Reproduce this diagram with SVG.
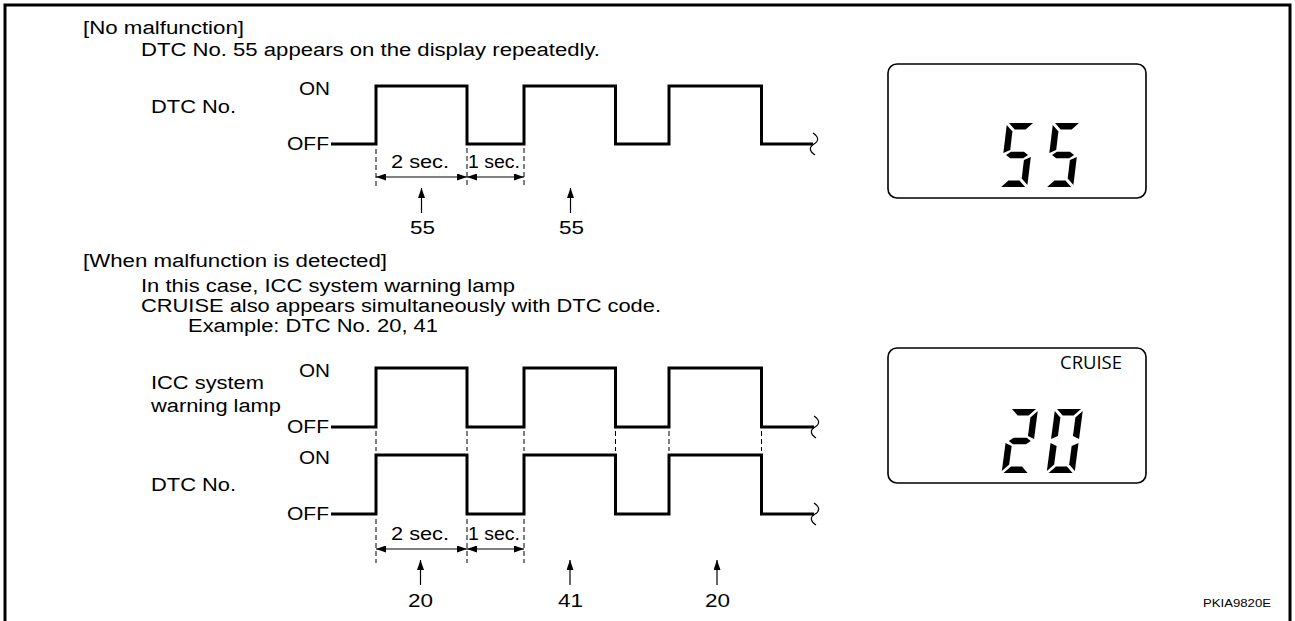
<svg xmlns="http://www.w3.org/2000/svg" xmlns:xlink="http://www.w3.org/1999/xlink" width="1295" height="621" viewBox="0 0 1295 621">
<style>
  text { font-family: "Liberation Sans", Arial, sans-serif; font-size: 18px; fill: #000; }
  .wave { fill: none; stroke: #000; stroke-width: 3; stroke-linejoin: miter; }
  .dash { fill: none; stroke: #000; stroke-width: 1; stroke-dasharray: 5 3; }
  .dim { fill: none; stroke: #000; stroke-width: 1; marker-start: url(#ah); marker-end: url(#ah); }
  .up { fill: none; stroke: #000; stroke-width: 1.2; marker-end: url(#ah); }
  .sq { fill: none; stroke: #000; stroke-width: 1.2; }
  .lcd { fill: #fff; stroke: #000; stroke-width: 1.6; }
  .seg { fill: #000; }
  .cruise { font-family: "Open Sans", "DejaVu Sans", sans-serif; font-size: 18px; }
  .code { font-size: 11px; }
</style>
<defs>
  <marker id="ah" markerUnits="userSpaceOnUse" markerWidth="11" markerHeight="7" refX="10" refY="3.5" orient="auto-start-reverse">
    <path d="M0,0 L10,3.5 L0,7 z" fill="#000"/>
  </marker>
  <polygon id="sa" class="seg" points="2,0 26,0 19.5,6.5 8.5,6.5"/>
  <polygon id="sb" class="seg" points="28,2 28,30 21.5,27 21.5,8.5"/>
  <polygon id="sc" class="seg" points="28,34 28,62 21.5,55.5 21.5,37"/>
  <polygon id="sd" class="seg" points="2,64 26,64 19.5,57.5 8.5,57.5"/>
  <polygon id="se" class="seg" points="0,34 0,62 6.5,55.5 6.5,37"/>
  <polygon id="sf" class="seg" points="0,2 0,30 6.5,27 6.5,8.5"/>
  <polygon id="sg" class="seg" points="3,32 7.5,28.75 20.5,28.75 25,32 20.5,35.25 7.5,35.25"/>
</defs>

<rect x="0" y="0" width="1295" height="621" fill="#fff"/>
<path id="frame" d="M5 621 V5 H1290 V621" fill="none" stroke="#000" stroke-width="3"/>

<!-- Section 1 texts -->
<g id="section1-text">
  <text x="83" y="34" textLength="161" lengthAdjust="spacingAndGlyphs">[No malfunction]</text>
  <text x="141" y="56" textLength="459" lengthAdjust="spacingAndGlyphs">DTC No. 55 appears on the display repeatedly.</text>
</g>

<g id="dtc1-labels">
  <text x="151" y="113" textLength="85" lengthAdjust="spacingAndGlyphs">DTC No.</text>
  <text x="299" y="95" textLength="31" lengthAdjust="spacingAndGlyphs">ON</text>
  <text x="287" y="150" textLength="42" lengthAdjust="spacingAndGlyphs">OFF</text>
</g>

<g id="dtc1-wave">
  <path class="wave" d="M331 144 H376 V86 H467 V144 H524 V86 H615.5 V144 H669 V86 H761.5 V144 H813"/>
  <path class="sq" d="M813 133 C819 137 819 141 814 144 C809 147 809 151 815 155"/>
</g>

<g id="dtc1-timing">
  <line class="dash" x1="376" y1="149" x2="376" y2="188"/>
  <line class="dash" x1="467" y1="148" x2="467" y2="187"/>
  <line class="dash" x1="524" y1="148" x2="524" y2="187"/>
  <line class="dim" x1="376" y1="177" x2="467" y2="177"/>
  <line class="dim" x1="467" y1="177" x2="524" y2="177"/>
  <text x="391" y="168" textLength="58" lengthAdjust="spacingAndGlyphs">2 sec.</text>
  <text x="468" y="168" textLength="52" lengthAdjust="spacingAndGlyphs">1 sec.</text>
  <line class="up" x1="421.5" y1="213" x2="421.5" y2="188"/>
  <line class="up" x1="570.5" y1="213" x2="570.5" y2="188"/>
  <text x="410" y="234" textLength="25" lengthAdjust="spacingAndGlyphs">55</text>
  <text x="559" y="234" textLength="25" lengthAdjust="spacingAndGlyphs">55</text>
</g>

<g id="display1" aria-label="55">
  <rect class="lcd" x="888" y="64" width="258" height="134" rx="9"/>
  <g transform="translate(1007 123) skewX(-7)">
    <use xlink:href="#sa"/><use xlink:href="#sf"/><use xlink:href="#sg"/><use xlink:href="#sc"/><use xlink:href="#sd"/>
  </g>
  <g transform="translate(1053 123) skewX(-7)">
    <use xlink:href="#sa"/><use xlink:href="#sf"/><use xlink:href="#sg"/><use xlink:href="#sc"/><use xlink:href="#sd"/>
  </g>
</g>

<!-- Section 2 texts -->
<g id="section2-text">
  <text x="83" y="267" textLength="304" lengthAdjust="spacingAndGlyphs">[When malfunction is detected]</text>
  <text x="141" y="292" textLength="374" lengthAdjust="spacingAndGlyphs">In this case, ICC system warning lamp</text>
  <text x="141" y="312" textLength="520" lengthAdjust="spacingAndGlyphs">CRUISE also appears simultaneously with DTC code.</text>
  <text x="188" y="332" textLength="250" lengthAdjust="spacingAndGlyphs">Example: DTC No. 20, 41</text>
</g>

<g id="icc-labels">
  <text x="151" y="389" textLength="113" lengthAdjust="spacingAndGlyphs">ICC system</text>
  <text x="151" y="412" textLength="130" lengthAdjust="spacingAndGlyphs">warning lamp</text>
  <text x="299" y="377" textLength="31" lengthAdjust="spacingAndGlyphs">ON</text>
  <text x="287" y="433" textLength="42" lengthAdjust="spacingAndGlyphs">OFF</text>
</g>

<g id="icc-wave">
  <path class="wave" d="M331 427 H376 V368 H467 V427 H524 V368 H615.5 V427 H669 V368 H761.5 V427 H814"/>
  <path class="sq" d="M814 416 C820 420 820 424 815 427 C810 430 810 434 816 438"/>
</g>

<g id="link-dashes">
  <line class="dash" x1="376" y1="431" x2="376" y2="451"/>
  <line class="dash" x1="467" y1="431" x2="467" y2="451"/>
  <line class="dash" x1="524" y1="431" x2="524" y2="451"/>
  <line class="dash" x1="615.5" y1="431" x2="615.5" y2="451"/>
  <line class="dash" x1="669" y1="431" x2="669" y2="451"/>
  <line class="dash" x1="761.5" y1="431" x2="761.5" y2="451"/>
</g>

<g id="dtc2-labels">
  <text x="151" y="491" textLength="85" lengthAdjust="spacingAndGlyphs">DTC No.</text>
  <text x="299" y="464" textLength="31" lengthAdjust="spacingAndGlyphs">ON</text>
  <text x="287" y="520" textLength="42" lengthAdjust="spacingAndGlyphs">OFF</text>
</g>

<g id="dtc2-wave">
  <path class="wave" d="M331 514 H376 V455 H467 V514 H524 V455 H615.5 V514 H669 V455 H761.5 V514 H814"/>
  <path class="sq" d="M814 503 C820 507 820 511 815 514 C810 517 810 521 816 525"/>
</g>

<g id="dtc2-timing">
  <line class="dash" x1="376" y1="519" x2="376" y2="563"/>
  <line class="dash" x1="467" y1="519" x2="467" y2="563"/>
  <line class="dash" x1="524" y1="519" x2="524" y2="563"/>
  <line class="dim" x1="376" y1="549" x2="467" y2="549"/>
  <line class="dim" x1="467" y1="549" x2="524" y2="549"/>
  <text x="391" y="540" textLength="58" lengthAdjust="spacingAndGlyphs">2 sec.</text>
  <text x="468" y="540" textLength="52" lengthAdjust="spacingAndGlyphs">1 sec.</text>
  <line class="up" x1="420.5" y1="585" x2="420.5" y2="560"/>
  <line class="up" x1="570" y1="585" x2="570" y2="560"/>
  <line class="up" x1="717" y1="585" x2="717" y2="560"/>
  <text x="408" y="607" textLength="25" lengthAdjust="spacingAndGlyphs">20</text>
  <text x="558" y="607" textLength="25" lengthAdjust="spacingAndGlyphs">41</text>
  <text x="705" y="607" textLength="25" lengthAdjust="spacingAndGlyphs">20</text>
</g>

<g id="display2" aria-label="CRUISE 20">
  <rect class="lcd" x="888" y="348" width="258" height="135" rx="9"/>
  <text class="cruise" x="1060" y="369" textLength="62" lengthAdjust="spacingAndGlyphs">CRUISE</text>
  <g transform="translate(1010 409) skewX(-7.5)">
    <use xlink:href="#sa"/><use xlink:href="#sb"/><use xlink:href="#sg"/><use xlink:href="#se"/><use xlink:href="#sd"/>
  </g>
  <g transform="translate(1055 409) skewX(-7.5)">
    <use xlink:href="#sa"/><use xlink:href="#sb"/><use xlink:href="#sc"/><use xlink:href="#sd"/><use xlink:href="#se"/><use xlink:href="#sf"/>
  </g>
</g>

<text id="figure-code" class="code" x="1203" y="607" textLength="68" lengthAdjust="spacingAndGlyphs">PKIA9820E</text>
</svg>
